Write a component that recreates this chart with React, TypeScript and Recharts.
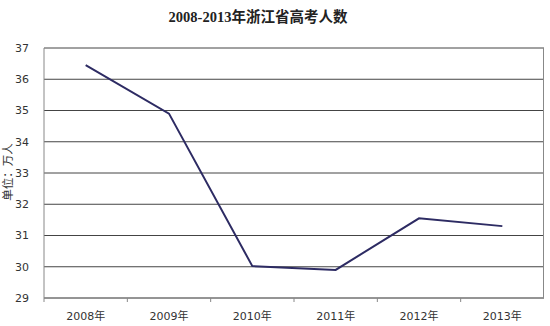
import { LineChart, Line, XAxis, YAxis, CartesianGrid, Label } from "recharts";

const years = ["2008年", "2009年", "2010年", "2011年", "2012年", "2013年"];
const examTakers = [36.45, 34.9, 30.02, 29.9, 31.55, 31.3];
const yTicks = [29, 30, 31, 32, 33, 34, 35, 36, 37];

const data = years.map((year, i) => ({ year, value: examTakers[i] }));

const W = 550;
const H = 326;
const TOP = 48;
const BOTTOM = 28;
const LEFT = 44;
const RIGHT = 6;
const halfBand = (W - LEFT - RIGHT) / years.length / 2;

const XTick = (props: any) => {
  const { x, y, payload } = props;
  return (
    <g>
      <line x1={x - halfBand} y1={y} x2={x - halfBand} y2={y + 4} stroke="#888" />
      <text
        x={x}
        y={y + 18}
        textAnchor="middle"
        dominantBaseline="central"
        fontSize={11}
        fill="#333"
        fontFamily="'DejaVu Sans', 'Noto Sans CJK SC', sans-serif"
      >
        {payload.value}
      </text>
    </g>
  );
};

export default function App() {
  return (
    <div style={{ position: "absolute", left: 0, top: 0, width: W, height: H, background: "#fff" }}>
      <div
        style={{
          position: "absolute",
          top: 5,
          left: 0,
          width: 516,
          textAlign: "center",
          fontFamily: "'Liberation Serif', 'Noto Sans CJK SC', serif",
          fontWeight: "bold",
          fontSize: 14.5,
          color: "#222",
        }}
      >
        2008-2013年浙江省高考人数
      </div>
      <LineChart width={W} height={H} data={data} margin={{ top: TOP, right: RIGHT, bottom: 0, left: 0 }}>
        <CartesianGrid vertical={false} stroke="#444" strokeWidth={1} />
        <XAxis
          dataKey="year"
          height={BOTTOM}
          stroke="#888"
          padding={{ left: halfBand, right: halfBand }}
          tickLine={false}
          tickSize={0}
          tickMargin={0}
          tick={<XTick />}
          interval={0}
        />
        <YAxis
          width={LEFT}
          domain={[29, 37]}
          ticks={yTicks}
          stroke="#888"
          tickLine={false}
          tickSize={0}
          tickMargin={15}
          tick={{ fontSize: 11, fill: "#333", fontFamily: "'DejaVu Sans', sans-serif" }}
        >
          <Label
            content={() => (
              <text
                x={7}
                y={172}
                transform="rotate(-90 7 172)"
                textAnchor="middle"
                dominantBaseline="central"
                fontSize={11.5}
                fill="#333"
                fontFamily="'Noto Sans CJK SC', sans-serif"
              >
                单位：万人
              </text>
            )}
          />
        </YAxis>
        <Line
          type="linear"
          dataKey="value"
          stroke="#2d2b63"
          strokeWidth={2}
          dot={false}
          isAnimationActive={false}
        />
      </LineChart>
      {/* right edge of the plot frame */}
      <div
        style={{
          position: "absolute",
          zIndex: 2,
          left: W - RIGHT - 1,
          top: TOP,
          width: 1,
          height: H - TOP - BOTTOM,
          background: "#888",
        }}
      />
    </div>
  );
}
